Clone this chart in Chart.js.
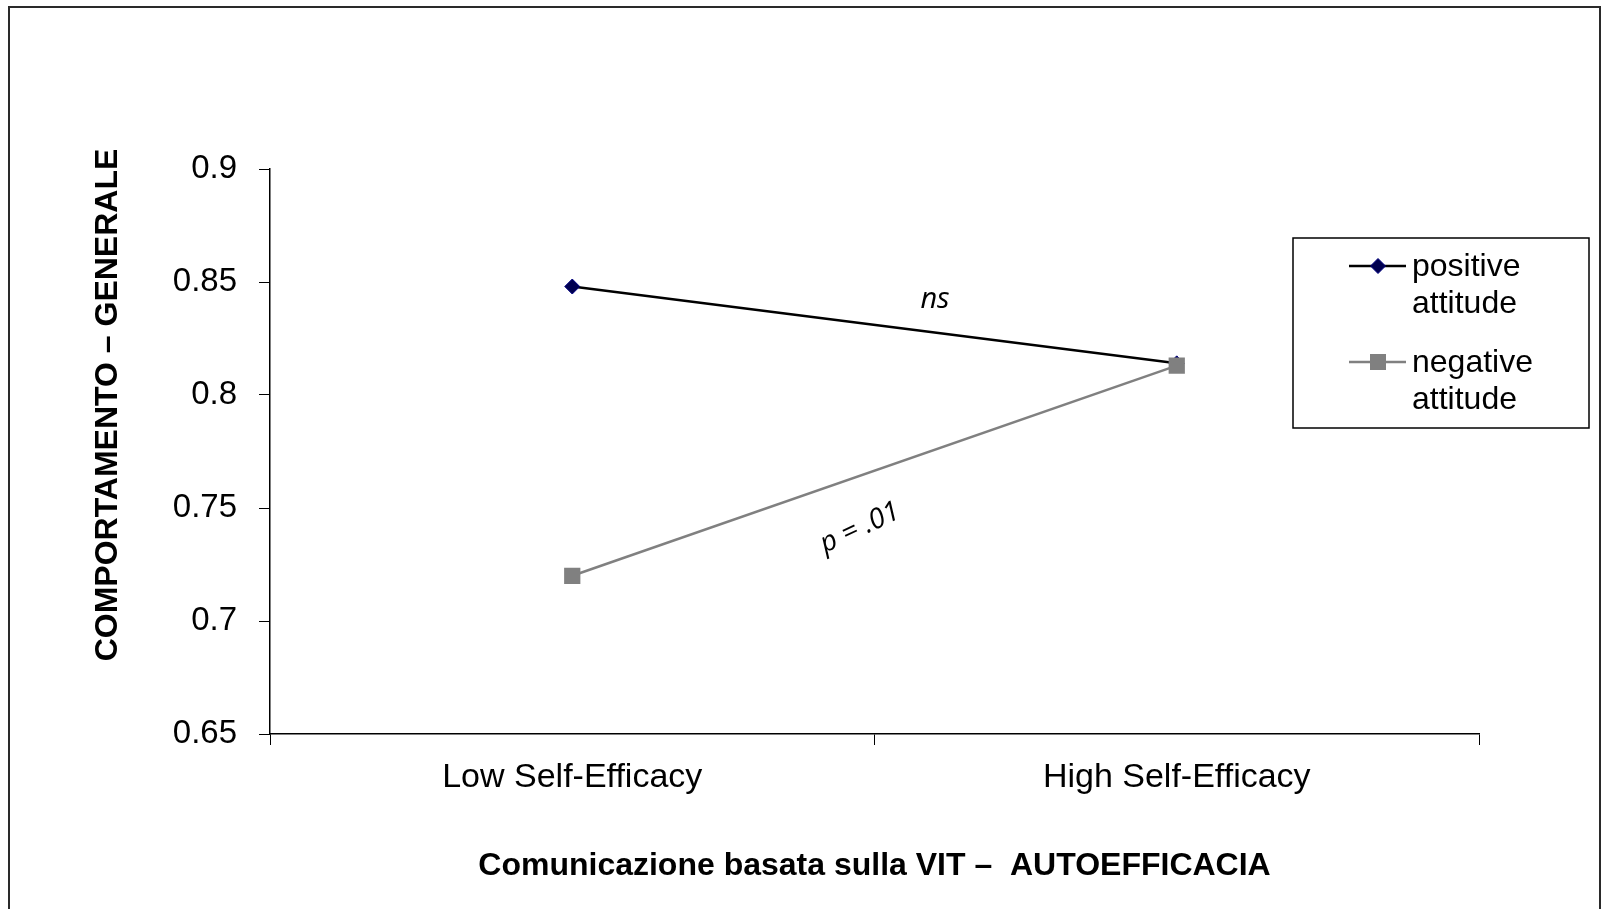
<!DOCTYPE html>
<html><head><meta charset="utf-8">
<script src="https://cdn.jsdelivr.net/npm/chart.js@4.4.1/dist/chart.umd.min.js"></script>
<style>html,body{margin:0;padding:0;background:#fff;overflow:hidden;}#wrap{position:relative;width:1606px;height:909px;}</style>
</head><body><div id="wrap"><canvas id="c" width="1606" height="909"></canvas></div>
<script>
const categories = ['Low Self-Efficacy', 'High Self-Efficacy'];
const positiveAttitude = [0.848, 0.814];
const negativeAttitude = [0.720, 0.813];
const seriesLabels = [['positive', 'attitude'], ['negative', 'attitude']];
const yTickValues = [0.65, 0.7, 0.75, 0.8, 0.85, 0.9];
const yTitle = 'COMPORTAMENTO \u2013 GENERALE';
const xTitle = 'Comunicazione basata sulla VIT \u2013  AUTOEFFICACIA';
const annotationTexts = ['ns', 'p = .01'];

const SANS = '"Liberation Sans", Arial, sans-serif';

function drawMarker(ctx, style, x, y, fill, stroke) {
  ctx.save();
  ctx.fillStyle = fill;
  ctx.strokeStyle = stroke;
  ctx.lineWidth = 1;
  ctx.beginPath();
  if (style === 'rectRot') {
    const r = 7.5;
    ctx.moveTo(x, y - r); ctx.lineTo(x + r, y); ctx.lineTo(x, y + r); ctx.lineTo(x - r, y); ctx.closePath();
    ctx.fill(); ctx.stroke();
  } else {
    const h = 8;
    ctx.rect(x - h, y - h, 2 * h, 2 * h);
    ctx.fill();
  }
  ctx.restore();
}

const decor = {
  id: 'decor',
  afterDraw(chart) {
    const ctx = chart.ctx;
    ctx.save();
    // outer frame
    ctx.strokeStyle = '#2a2a2a';
    ctx.lineWidth = 2;
    ctx.strokeRect(9, 7, 1591, 920);
    // y title
    ctx.fillStyle = '#000';
    ctx.font = 'bold 32px ' + SANS;
    ctx.textAlign = 'center';
    ctx.textBaseline = 'middle';
    ctx.save();
    ctx.translate(108, 405);
    ctx.rotate(-Math.PI / 2);
    ctx.fillText(yTitle, 0, 0);
    ctx.restore();
    // x title
    ctx.fillText(xTitle, (chart.chartArea.left + chart.chartArea.right) / 2, 866);
    // annotations
    ctx.font = 'italic 29px "Open Sans", "Noto Sans", sans-serif';
    ctx.fillText(annotationTexts[0], 935, 300);
    ctx.save();
    ctx.translate(860, 528);
    ctx.rotate(-25 * Math.PI / 180);
    ctx.font = 'italic 28px "Open Sans", "Noto Sans", sans-serif';
    ctx.fillText(annotationTexts[1], 0, 0);
    ctx.restore();
    // legend
    ctx.strokeStyle = '#000';
    ctx.lineWidth = 1.5;
    ctx.strokeRect(1293, 238, 296, 190);
    const ds = chart.data.datasets;
    const rows = [266, 362];
    ds.forEach((d, i) => {
      const y = rows[i];
      ctx.strokeStyle = d.borderColor;
      ctx.lineWidth = 2.5;
      ctx.beginPath(); ctx.moveTo(1349, y); ctx.lineTo(1406, y); ctx.stroke();
      drawMarker(ctx, d.pointStyle, 1378, y, d.pointBackgroundColor, d.pointBorderColor);
      ctx.fillStyle = '#000';
      ctx.font = '32px ' + SANS;
      ctx.textAlign = 'left';
      ctx.textBaseline = 'middle';
      seriesLabels[i].forEach((t, k) => ctx.fillText(t, 1412, y + 1 + k * 37));
    });
    ctx.restore();
  }
};

new Chart(document.getElementById('c'), {
  type: 'line',
  data: {
    labels: categories,
    datasets: [
      {
        label: seriesLabels[0].join(' '),
        data: positiveAttitude,
        borderColor: '#000000',
        borderWidth: 2.5,
        pointStyle: 'rectRot',
        pointRadius: 7.5,
        pointBackgroundColor: '#000050',
        pointBorderColor: '#000080',
        pointBorderWidth: 1,
        order: 2
      },
      {
        label: seriesLabels[1].join(' '),
        data: negativeAttitude,
        borderColor: '#808080',
        borderWidth: 2.5,
        pointStyle: 'rect',
        pointRadius: 11.5,
        pointBackgroundColor: '#808080',
        pointBorderColor: '#808080',
        pointBorderWidth: 0,
        order: 1
      }
    ]
  },
  options: {
    responsive: false,
    animation: false,
    devicePixelRatio: 1,
    layout: { padding: { top: 169, right: 127, bottom: 0, left: 0 } },
    plugins: { legend: { display: false }, tooltip: { enabled: false } },
    scales: {
      x: {
        type: 'category',
        offset: true,
        afterFit: s => { s.height = 175; },
        grid: { display: true, drawOnChartArea: false, drawTicks: true, tickLength: 11, offset: true, color: '#000', lineWidth: 1 },
        border: { display: true, color: '#000', width: 1.5 },
        ticks: { color: '#000', padding: 12, maxRotation: 0, font: { family: SANS, size: 34 } }
      },
      y: {
        min: 0.65,
        max: 0.9,
        afterFit: s => { s.width = 270; },
        afterBuildTicks: s => { s.ticks = yTickValues.map(v => ({ value: v })); },
        grid: { display: true, drawOnChartArea: false, drawTicks: true, tickLength: 11, color: '#000', lineWidth: 1 },
        border: { display: true, color: '#000', width: 1.5 },
        ticks: { color: '#000', padding: 22, font: { family: SANS, size: 33 }, callback: v => String(+Number(v).toFixed(2)) }
      }
    }
  },
  plugins: [decor]
});
</script>
</body></html>
